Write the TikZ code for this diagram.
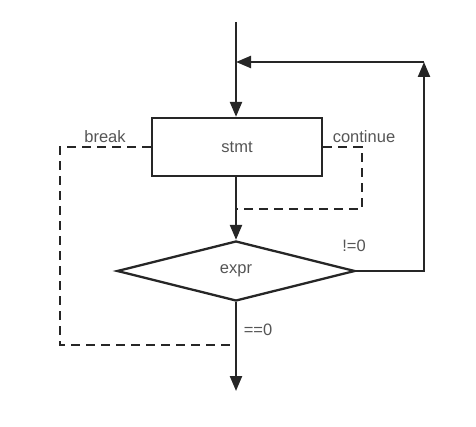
\documentclass[tikz,border=0pt]{standalone}
\usepackage{fontspec}
\setmainfont{Liberation Sans}
\usetikzlibrary{arrows.meta,shapes.geometric}
\definecolor{ln}{HTML}{262626}
\definecolor{tx}{HTML}{555555}
\begin{document}
\begin{tikzpicture}[x=1pt,y=-1pt,
  line width=2.3pt,
  flow/.style={draw=ln,-{Triangle[length=15pt,width=12pt]}},
  plain/.style={draw=ln},
  dashline/.style={draw=ln,dash pattern=on 9pt off 6pt},
  lbl/.style={text=tx,font=\fontsize{16.5}{19}\selectfont,inner sep=0pt},
  box/.style={draw=ln,minimum width=170pt,minimum height=58pt,inner sep=0pt,text=tx,font=\fontsize{16.5}{19}\selectfont},
  dia/.style={draw=ln,diamond,aspect=3.97,minimum width=238pt,minimum height=60pt,inner sep=0pt,text=tx,font=\fontsize{16.5}{19}\selectfont}]
\useasboundingbox (0,0) rectangle (476,427);
\coordinate (start) at (236,22);
\coordinate (join) at (236,62);
\node[box] (stmt) at (237,147) {stmt};
\node[dia] (expr) at (236,271) {expr};
\coordinate (rt) at (424,271);
\coordinate (rtop) at (424,62);
\coordinate (endp) at (236,391);
\coordinate (bl) at (60,147);
\coordinate (bb) at (60,345);
\coordinate (bm) at (236,345);
\coordinate (cr) at (362,147);
\coordinate (cb) at (362,209);
\coordinate (cm) at (236,209);
\draw[plain] (start) -- (join);
\draw[flow] (join) -- (stmt.north -| join);
\draw[flow] (stmt.south -| join) -- (expr.north);
\draw[flow] (expr.east) -- (rt) -- (rtop);
\draw[flow] (rtop) -- (join);
\draw[flow] (expr.south) -- (endp);
\draw[dashline] (stmt.west) -- (bl) -- (bb) -- (bm);
\draw[dashline] (stmt.east) -- (cr) -- (cb) -- (cm);
\node[lbl] (brk) at (105,137) {break};
\node[lbl] (cnt) at (364,137) {continue};
\node[lbl] (ne) at (354,246) {!=0};
\node[lbl] (eq) at (258,330) {==0};
\end{tikzpicture}
\end{document}
